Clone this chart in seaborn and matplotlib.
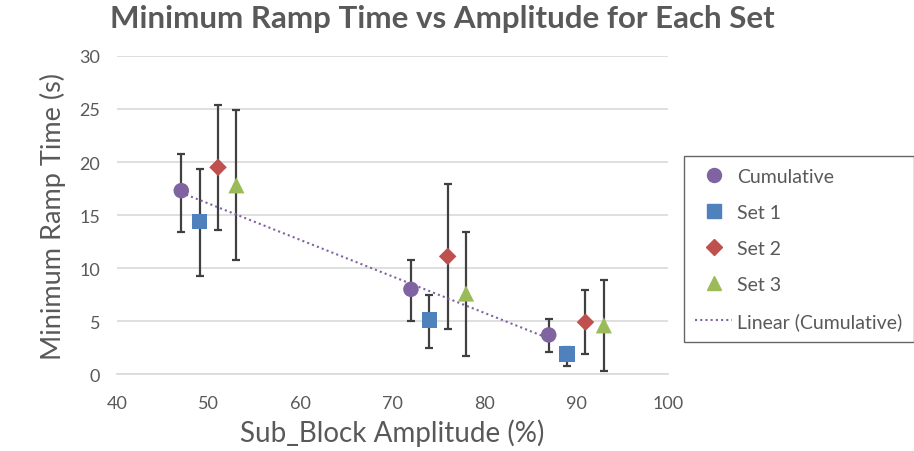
import numpy as np
import pandas as pd
import matplotlib
matplotlib.use("Agg")
import matplotlib.pyplot as plt
import seaborn as sns
from matplotlib.lines import Line2D

# Data
series = ["Cumulative", "Set 1", "Set 2", "Set 3"]
amp_cum = [47, 72, 87]
amp_set1 = [49, 74, 89]
amp_set2 = [51, 76, 91]
amp_set3 = [53, 78, 93]
ramp_cum = [17.3, 8.0, 3.7]
ramp_set1 = [14.4, 5.1, 1.9]
ramp_set2 = [19.5, 11.1, 4.9]
ramp_set3 = [17.8, 7.6, 4.6]
hi_cum = [20.8, 10.8, 5.2]
hi_set1 = [19.3, 7.5, 2.6]
hi_set2 = [25.4, 17.9, 7.9]
hi_set3 = [24.9, 13.4, 8.9]
lo_cum = [13.4, 5.0, 2.1]
lo_set1 = [9.3, 2.5, 0.8]
lo_set2 = [13.6, 4.3, 1.9]
lo_set3 = [10.8, 1.7, 0.3]

colors = {"Cumulative": "#8064A2", "Set 1": "#4F81BD",
          "Set 2": "#C0504D", "Set 3": "#9BBB59"}
markers = {"Cumulative": "o", "Set 1": "s", "Set 2": "D", "Set 3": "^"}
msizes = {"Cumulative": 125, "Set 1": 125, "Set 2": 80, "Set 3": 135}

frames = []
for name, a, r, h, l in zip(series,
                            [amp_cum, amp_set1, amp_set2, amp_set3],
                            [ramp_cum, ramp_set1, ramp_set2, ramp_set3],
                            [hi_cum, hi_set1, hi_set2, hi_set3],
                            [lo_cum, lo_set1, lo_set2, lo_set3]):
    frames.append(pd.DataFrame({"series": name, "amp": a, "ramp": r,
                                "hi": h, "lo": l}))
df = pd.concat(frames, ignore_index=True)

sns.set_style("white")
plt.rcParams["font.family"] = ["Lato", "DejaVu Sans"]
grey = "#595959"

fig = plt.figure(figsize=(9.14, 4.52), dpi=100)
ax = fig.add_axes([0.128, 0.170, 0.603, 0.704])

# error bars first, markers on top
ax.errorbar(df["amp"], df["ramp"],
            yerr=[df["ramp"] - df["lo"], df["hi"] - df["ramp"]],
            fmt="none", ecolor="#404040", elinewidth=1.6, capsize=2.7,
            capthick=1.6, zorder=2)

sns.scatterplot(data=df, x="amp", y="ramp", hue="series", style="series",
                size="series", sizes=msizes, palette=colors, markers=markers,
                edgecolor="none", ax=ax, zorder=3, legend=False)

# linear trendline on the cumulative set
cum = df[df["series"] == "Cumulative"]
k, b = np.polyfit(cum["amp"], cum["ramp"], 1)
xs = np.array([cum["amp"].min(), cum["amp"].max()])
ax.plot(xs, k * xs + b, ls=(0, (1, 1.5)), color="#8064A2", lw=1.5, zorder=2.5)

ax.set_xlim(40, 100)
ax.set_ylim(0, 30)
ax.set_xticks(range(40, 101, 10))
ax.set_yticks(range(0, 31, 5))
ax.yaxis.grid(True, color="#D9D9D9", lw=1.2)
ax.xaxis.grid(False)
for s in ["top", "right", "left"]:
    ax.spines[s].set_visible(False)
ax.spines["bottom"].set_color("#D9D9D9")
ax.spines["bottom"].set_linewidth(1.2)
ax.tick_params(axis="both", length=0, labelsize=13, colors=grey)
ax.tick_params(axis="x", pad=15)
ax.tick_params(axis="y", pad=12)

ax.set_xlabel("Sub_Block Amplitude (%)", fontsize=20, color=grey, labelpad=5)
ax.set_ylabel("Minimum Ramp Time (s)", fontsize=19.5, color=grey, labelpad=10)
fig.suptitle("Minimum Ramp Time vs Amplitude for Each Set", fontsize=22.5,
             fontweight="bold", color=grey, x=0.484, y=0.99)

handles = [Line2D([], [], ls="none", marker=markers[n], color=colors[n],
                  markersize=np.sqrt(msizes[n]) * 0.9) for n in series]
handles.append(Line2D([], [], ls=(0, (1, 1.5)), color="#8064A2", lw=1.5))
labels = series + ["Linear (Cumulative)"]
leg = fig.legend(handles, labels, loc="upper left",
                 bbox_to_anchor=(0.748, 0.652), frameon=True, fancybox=False,
                 fontsize=14, labelcolor=grey, handlelength=1.9,
                 labelspacing=0.98, borderpad=0.6, handletextpad=0.25,
                 borderaxespad=0)
leg.get_frame().set_edgecolor("#404040")
leg.get_frame().set_linewidth(1.0)

fig.savefig("out.png", dpi=100)
